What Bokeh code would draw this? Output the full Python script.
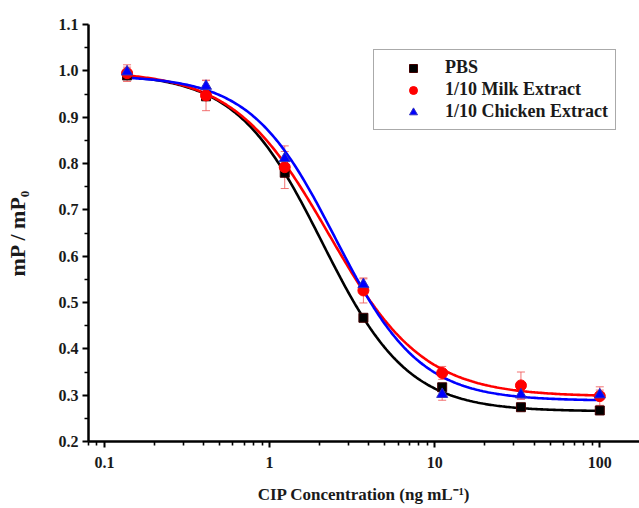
import numpy as np
from bokeh.plotting import figure
from bokeh.models import (Range1d, FixedTicker, CustomJSTickFormatter, PrintfTickFormatter,
                          Legend, LegendItem, Whisker, ColumnDataSource, TeeHead)
from bokeh.embed import file_html
from bokeh.resources import INLINE

# ---- data ----
conc = [0.137, 0.412, 1.235, 3.70, 11.1, 33.3, 100.0]
pbs = [0.990, 0.945, 0.780, 0.467, 0.317, 0.274, 0.267]
milk = [0.995, 0.947, 0.792, 0.526, 0.348, 0.321, 0.298]
milk_err = [0.018, 0.033, 0.046, 0.027, 0.014, 0.029, 0.020]
chicken = [0.998, 0.967, 0.811, 0.539, 0.302, 0.301, 0.301]
chicken_err = [0.010, 0.012, 0.015, 0.012, 0.013, 0.010, 0.010]

# fitted logistic parameters (top, bottom, x0, power)
fit_pbs = (0.995, 0.265, 2.08, 1.67)
fit_milk = (1.000, 0.297, 2.275, 1.51)
fit_chicken = (0.990, 0.288, 2.50, 1.70)

series_names = ["PBS", "1/10 Milk Extract", "1/10 Chicken Extract"]
x_title = "CIP Concentration (ng mL\u207b\u00b9)"
y_title = "mP / mP\u2080"
y_ticks = [0.2, 0.3, 0.4, 0.5, 0.6, 0.7, 0.8, 0.9, 1.0, 1.1]
y_minor = [0.25, 0.35, 0.45, 0.55, 0.65, 0.75, 0.85, 0.95, 1.05]
x_ticks = [0.1, 1, 10, 100]
x_minor = [0.08, 0.09, 0.2, 0.3, 0.4, 0.5, 0.6, 0.7, 0.8, 0.9,
           2, 3, 4, 5, 6, 7, 8, 9, 20, 30, 40, 50, 60, 70, 80, 90]

FONT = "Liberation Serif"
TXT = "#1a1a1a"

p = figure(width=639, height=508, x_axis_type="log",
           x_range=Range1d(0.08, 174), y_range=Range1d(0.2, 1.1),
           output_backend="svg", toolbar_location=None,
           min_border_left=88, min_border_right=0, min_border_top=24, min_border_bottom=67)
p.outline_line_color = None
p.xgrid.visible = False
p.ygrid.visible = False
p.background_fill_color = "white"


def logistic(x, params):
    a1, a2, x0, pw = params
    return a2 + (a1 - a2) / (1.0 + (x / x0) ** pw)


xs = np.logspace(np.log10(conc[0]), np.log10(conc[-1]), 300)
p.line(xs, logistic(xs, fit_pbs), line_color="black", line_width=2.6)
p.line(xs, logistic(xs, fit_milk), line_color="#ff0000", line_width=2.6)
p.line(xs, logistic(xs, fit_chicken), line_color="#0000ff", line_width=2.6)

r_pbs = p.scatter(conc, pbs, marker="square", size=9, fill_color="black", line_color="#400000")
r_milk = p.scatter(conc, milk, marker="circle", size=11, fill_color="#ff0000", line_color="#ff0000")
r_chk = p.scatter(conc, chicken, marker="triangle", size=11, fill_color="#0000ff", line_color="#3030c0")

for vals, errs in ((milk, milk_err), (chicken, chicken_err)):
    src = ColumnDataSource(dict(x=conc,
                                up=[v + e for v, e in zip(vals, errs)],
                                lo=[v - e for v, e in zip(vals, errs)]))
    w = Whisker(base="x", upper="up", lower="lo", source=src, dimension="height",
                line_color="#f05a5a", line_width=1, line_alpha=0.85,
                upper_head=TeeHead(size=8, line_color="#f05a5a", line_alpha=0.85),
                lower_head=TeeHead(size=8, line_color="#f05a5a", line_alpha=0.85))
    p.add_layout(w)

# axes
for ax in (p.xaxis[0], p.yaxis[0]):
    ax.axis_line_width = 2.5
    ax.axis_line_color = "black"
    ax.major_tick_line_width = 2
    ax.minor_tick_line_width = 1.6
    ax.major_tick_in = 0
    ax.major_tick_out = 6
    ax.minor_tick_in = 0
    ax.minor_tick_out = 4
    ax.major_label_text_font = FONT
    ax.major_label_text_font_style = "bold"
    ax.major_label_text_font_size = "16px"
    ax.major_label_text_color = TXT
    ax.axis_label_text_font = FONT
    ax.axis_label_text_font_style = "bold"
    ax.axis_label_text_color = TXT

p.yaxis[0].ticker = FixedTicker(ticks=y_ticks, minor_ticks=y_minor)
p.yaxis[0].formatter = PrintfTickFormatter(format="%.1f")
p.yaxis[0].major_label_standoff = 4
p.yaxis[0].axis_label = y_title
p.yaxis[0].axis_label_text_font_size = "22px"
p.yaxis[0].axis_label_standoff = 26

p.xaxis[0].ticker = FixedTicker(ticks=x_ticks, minor_ticks=x_minor)
p.xaxis[0].formatter = CustomJSTickFormatter(code="return tick < 1 ? tick.toFixed(1) : tick.toFixed(0);")
p.xaxis[0].major_label_standoff = 9
p.xaxis[0].axis_label = x_title
p.xaxis[0].axis_label_text_font_size = "17px"
p.xaxis[0].axis_label_standoff = 14

legend = Legend(items=[LegendItem(label=series_names[0], renderers=[r_pbs]),
                       LegendItem(label=series_names[1], renderers=[r_milk]),
                       LegendItem(label=series_names[2], renderers=[r_chk])],
                location=(285, 311), margin=0, padding=7, spacing=1,
                glyph_width=64, glyph_height=20, label_height=20, label_standoff=0,
                label_text_font=FONT, label_text_font_style="bold",
                label_text_font_size="18px", label_text_color=TXT,
                border_line_color="#555555", border_line_width=1,
                background_fill_color="white", background_fill_alpha=1)
p.add_layout(legend)

open("out.html", "w").write(file_html(p, INLINE))
